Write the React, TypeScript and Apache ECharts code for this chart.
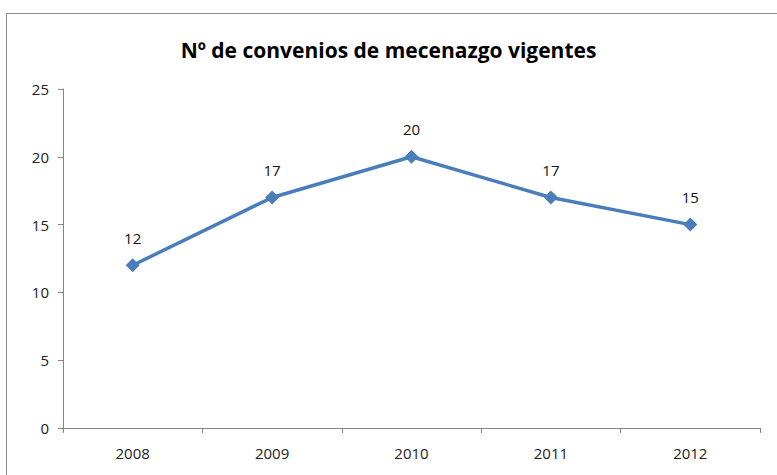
import React, { useEffect, useRef } from "react";
import * as echarts from "echarts";

const title = "Nº de convenios de mecenazgo vigentes";
const years = ["2008", "2009", "2010", "2011", "2012"];
const convenios = [12, 17, 20, 17, 15];

export default function App() {
  const ref = useRef<HTMLDivElement>(null);
  useEffect(() => {
    const chart = echarts.init(ref.current!, null, { renderer: "svg" });
    chart.setOption({
      animation: false,
      backgroundColor: "#ffffff",
      textStyle: { fontFamily: "Open Sans" },
      title: {
        text: title,
        left: "center",
        top: 34,
        textStyle: { fontSize: 21, fontWeight: "bold", color: "#000", fontFamily: "Open Sans" },
      },
      graphic: [
        {
          type: "rect",
          shape: { x: 6.5, y: 13.5, width: 900, height: 600 },
          style: { fill: "none", stroke: "#8a8a8a", lineWidth: 1 },
          silent: true,
        },
      ],
      grid: { left: 63, right: 17, top: 89, bottom: 47, containLabel: false },
      xAxis: {
        type: "category",
        data: years,
        boundaryGap: true,
        axisLine: { lineStyle: { color: "#868686" } },
        axisTick: { show: true, alignWithLabel: false, length: 5, lineStyle: { color: "#868686" } },
        axisLabel: { color: "#222", fontSize: 15, margin: 17 },
      },
      yAxis: {
        type: "value",
        min: 0,
        max: 25,
        interval: 5,
        splitLine: { show: false },
        axisLine: { show: true, lineStyle: { color: "#868686" } },
        axisTick: { show: true, inside: false, length: 5, lineStyle: { color: "#868686" } },
        axisLabel: { color: "#222", fontSize: 15, margin: 14 },
      },
      series: [
        {
          type: "line",
          data: convenios,
          symbol: "diamond",
          symbolSize: 14,
          lineStyle: { color: "#4a7ebb", width: 3.5 },
          itemStyle: { color: "#4a7ebb" },
          label: { show: true, position: "top", distance: 13, color: "#111", fontSize: 15 },
        },
      ],
    });
    return () => chart.dispose();
  }, []);
  return <div ref={ref} style={{ width: 777, height: 475, position: "absolute", left: 0, top: 0 }} />;
}
